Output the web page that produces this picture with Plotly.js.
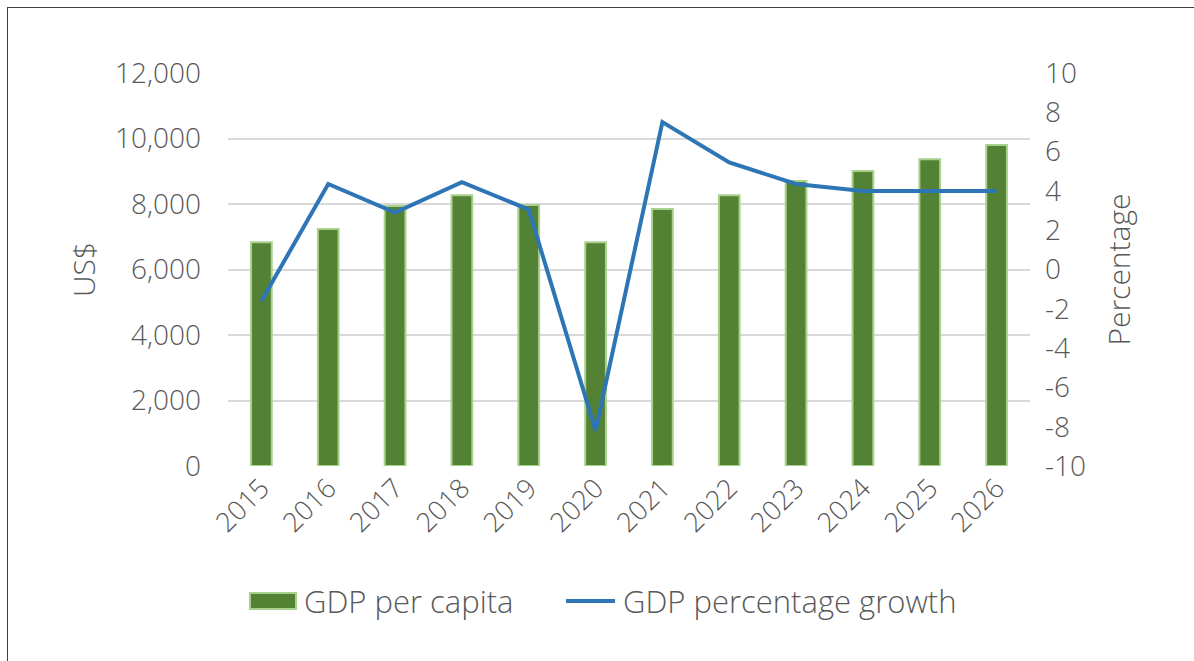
<!DOCTYPE html>
<html>
<head>
<meta charset="utf-8">
<script src="https://cdn.plot.ly/plotly-3.0.1.min.js"></script>
<style>
  html, body { margin: 0; padding: 0; background: #fff; }
  #wrap { position: relative; width: 1194px; height: 661px; overflow: hidden; }
  #chart { position: absolute; left: 0; top: 0; width: 1194px; height: 661px; }
  #frame { position: absolute; left: 7px; top: 7px; width: 1200px; height: 700px;
           border-left: 1.5px solid #404040; border-top: 1.5px solid #404040; pointer-events: none; }
</style>
</head>
<body>
<div id="wrap">
  <div id="chart"></div>
  <div id="frame"></div>
</div>
<script>
const years = ['2015','2016','2017','2018','2019','2020','2021','2022','2023','2024','2025','2026'];
const gdpPerCapita = [6830, 7240, 7940, 8270, 7970, 6830, 7850, 8270, 8700, 9010, 9370, 9800];
const gdpGrowth = [-1.6, 4.35, 2.9, 4.45, 3.05, -8.2, 7.5, 5.45, 4.35, 4.0, 4.0, 4.0];
const leftTicks = [0, 2000, 4000, 6000, 8000, 10000, 12000];
const rightTicks = [-10, -8, -6, -4, -2, 0, 2, 4, 6, 8, 10];
const rightTickText = rightTicks.map(v => String(v));
const seriesNames = ['GDP per capita', 'GDP percentage growth'];

const FONT = '"Open Sans", Lato, sans-serif';
const GREY = '#595959';
const mkFont = (s) => ({ family: FONT, size: s, color: GREY, weight: 300 });

const traces = [
  {
    type: 'bar', name: seriesNames[0], x: years, y: gdpPerCapita,
    marker: { color: '#548235', line: { color: '#a9d18e', width: 2 } },
    width: 0.31, yaxis: 'y', showlegend: false
  },
  {
    type: 'scatter', mode: 'lines', name: seriesNames[1], x: years, y: gdpGrowth,
    line: { color: '#2e75b6', width: 4 }, yaxis: 'y2', showlegend: false
  }
];

// custom legend (paper coordinates)
const legY = -0.3435;
const layout = {
  width: 1194, height: 661,
  paper_bgcolor: '#fff', plot_bgcolor: '#fff',
  margin: { l: 228, r: 164, t: 73, b: 195 },
  font: mkFont(28),
  showlegend: false,
  xaxis: {
    type: 'category', range: [-0.5, 11.5], tickangle: -45,
    showgrid: false, showline: false, zeroline: false, ticks: '',
    tickfont: mkFont(27)
  },
  yaxis: {
    range: [0, 12000], tickvals: leftTicks, tickformat: ',',
    showgrid: true, gridcolor: '#d9d9d9', gridwidth: 2, zeroline: false,
    showline: false, ticks: '', ticklabelstandoff: 26,
    tickfont: mkFont(28),
    title: { text: 'US$', font: mkFont(30), standoff: 10 }
  },
  yaxis2: {
    overlaying: 'y', side: 'right', range: [-10, 10], tickvals: rightTicks, ticktext: rightTickText,
    showgrid: false, zeroline: false, showline: false, ticks: '', ticklabelstandoff: 14,
    tickfont: mkFont(28),
    title: { text: 'Percentage', font: mkFont(30), standoff: 24 }
  },
  shapes: [
    { type: 'rect', xref: 'paper', yref: 'paper', x0: 0.0274, x1: 0.0848, y0: -0.3639, y1: -0.3232,
      fillcolor: '#548235', line: { color: '#a9d18e', width: 2 } },
    { type: 'line', xref: 'paper', yref: 'paper', x0: 0.4215, x1: 0.4825, y0: legY, y1: legY,
      line: { color: '#2e75b6', width: 4 } }
  ],
  annotations: [
    { xref: 'paper', yref: 'paper', x: 0.0923, y: legY, xanchor: 'left', yanchor: 'middle',
      text: seriesNames[0], showarrow: false, font: mkFont(31) },
    { xref: 'paper', yref: 'paper', x: 0.4900, y: legY, xanchor: 'left', yanchor: 'middle',
      text: seriesNames[1], showarrow: false, font: mkFont(31) }
  ],
  bargap: 0.69
};

Plotly.newPlot('chart', traces, layout, { displayModeBar: false, staticPlot: true });
</script>
</body>
</html>
